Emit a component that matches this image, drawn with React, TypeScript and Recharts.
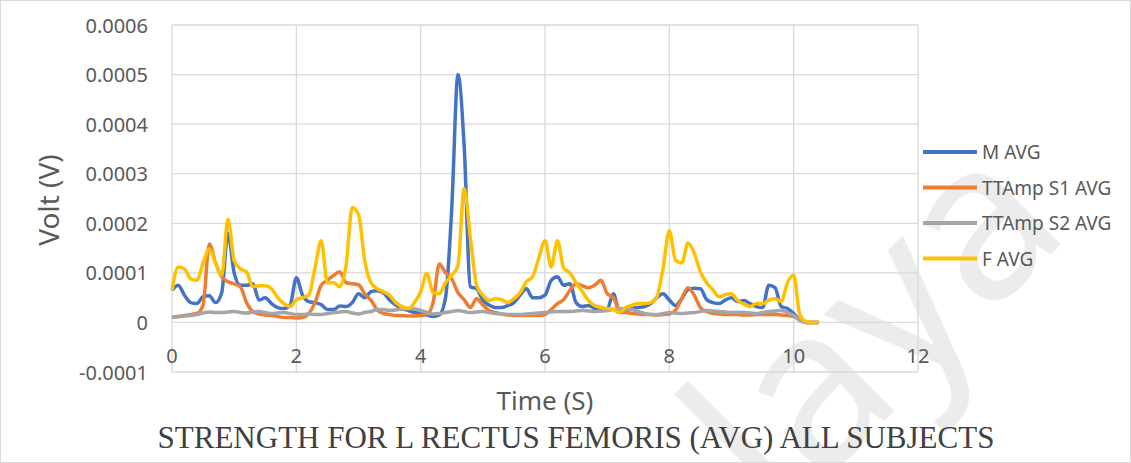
import { CartesianGrid, Line, LineChart, XAxis, YAxis } from "recharts";

// time in seconds, values in microvolts
const TIME = [
  0, 0.1, 0.2, 0.3, 0.4, 0.5, 0.6, 0.7, 0.8, 0.9,
  1, 1.1, 1.2, 1.3, 1.4, 1.5, 1.6, 1.7, 1.8, 1.9,
  2, 2.1, 2.2, 2.3, 2.4, 2.5, 2.6, 2.7, 2.8, 2.9,
  3, 3.1, 3.2, 3.3, 3.4, 3.5, 3.6, 3.7, 3.8, 3.9,
  4, 4.1, 4.2, 4.3, 4.4, 4.5, 4.6, 4.7, 4.8, 4.9,
  5, 5.1, 5.2, 5.3, 5.4, 5.5, 5.6, 5.7, 5.8, 5.9,
  6, 6.1, 6.2, 6.3, 6.4, 6.5, 6.6, 6.7, 6.8, 6.9,
  7, 7.1, 7.2, 7.3, 7.4, 7.5, 7.6, 7.7, 7.8, 7.9,
  8, 8.1, 8.2, 8.3, 8.4, 8.5, 8.6, 8.7, 8.8, 8.9,
  9, 9.1, 9.2, 9.3, 9.4, 9.5, 9.6, 9.7, 9.8, 9.9,
  10, 10.1, 10.2, 10.3, 10.4,
];

const M_AVG = [
  65, 75, 55, 40, 38, 52, 54, 40, 60, 180,
  100, 75, 75, 78, 45, 50, 38, 30, 28, 35,
  90, 55, 42, 40, 36, 26, 26, 33, 32, 40,
  58, 50, 62, 64, 60, 45, 35, 28, 24, 20,
  18, 15, 12, 15, 50, 230, 500, 355, 72, 68,
  45, 35, 30, 30, 34, 40, 55, 68, 50, 50,
  55, 85, 92, 75, 78, 40, 32, 34, 28, 24,
  26, 58, 20, 22, 28, 30, 32, 38, 50, 58,
  45, 34, 48, 66, 69, 68, 46, 40, 38, 45,
  50, 42, 44, 38, 32, 30, 75, 70, 32, 28,
  18, 5, 0, 0, 0,
];

const S1_AVG = [
  10, 12, 14, 16, 18, 35, 158, 120, 92, 82,
  78, 72, 40, 22, 17, 15, 14, 12, 10, 10,
  9, 10, 18, 40, 75, 85, 95, 102, 80, 78,
  76, 58, 45, 25, 18, 16, 14, 14, 13, 13,
  14, 16, 40, 118, 100, 88, 60, 46, 30, 48,
  35, 24, 20, 17, 15, 14, 14, 14, 14, 14,
  16, 26, 38, 46, 65, 78, 74, 70, 75, 85,
  58, 50, 24, 20, 18, 17, 16, 16, 15, 16,
  17, 25, 48, 70, 55, 30, 22, 18, 17, 16,
  16, 16, 15, 15, 16, 16, 16, 16, 15, 14,
  12, 6, 1, 0, 0,
];

const S2_AVG = [
  10, 12, 13, 14, 16, 19, 21, 20, 20, 21,
  22, 20, 19, 21, 22, 20, 18, 19, 20, 18,
  16, 16, 17, 16, 16, 18, 20, 21, 22, 19,
  17, 20, 22, 26, 26, 24, 25, 27, 28, 27,
  24, 20, 17, 18, 20, 22, 24, 22, 20, 21,
  22, 20, 18, 17, 16, 16, 16, 17, 18, 19,
  20, 21, 22, 22, 22, 23, 24, 23, 22, 23,
  24, 26, 28, 27, 26, 22, 18, 16, 16, 18,
  20, 19, 18, 19, 20, 22, 24, 23, 22, 21,
  20, 20, 20, 19, 18, 20, 22, 23, 24, 20,
  14, 4, 0, 0, 0,
];

const F_AVG = [
  65, 112, 108, 88, 85, 120, 148, 120, 95, 208,
  125, 108, 102, 72, 74, 74, 68, 50, 38, 32,
  46, 50, 55, 110, 165, 80, 80, 72, 115, 232,
  218, 125, 80, 68, 62, 55, 40, 32, 28, 40,
  62, 99, 60, 58, 80, 95, 115, 270, 170, 75,
  55, 44, 48, 46, 40, 48, 60, 82, 92, 130,
  165, 112, 165, 110, 100, 80, 62, 44, 34, 30,
  28, 26, 20, 30, 35, 38, 38, 40, 52, 110,
  185, 125, 120, 160, 140, 102, 80, 66, 52, 56,
  58, 44, 37, 32, 38, 38, 45, 48, 42, 80,
  95, 15, 2, 0, 0,
];

const X_TICKS = [0, 2, 4, 6, 8, 10, 12];
const Y_TICKS = [-100, 0, 100, 200, 300, 400, 500, 600];

const SERIES = [
  { key: "m", name: "M AVG", color: "#4472C4" },
  { key: "s1", name: "TTAmp S1 AVG", color: "#ED7D31" },
  { key: "s2", name: "TTAmp S2 AVG", color: "#A5A5A5" },
  { key: "f", name: "F AVG", color: "#FFC000" },
];

const data = TIME.map((t, i) => ({
  t,
  m: M_AVG[i],
  s1: S1_AVG[i],
  s2: S2_AVG[i],
  f: F_AVG[i],
}));

const FONT = "'Noto Sans', 'Open Sans', sans-serif";
const TEXT = "#595959";

function volt(v: number) {
  return v === 0 ? "0" : (v / 1e6).toFixed(4);
}

function XTick(props: any) {
  return (
    <text x={props.x} y={props.y - 17} textAnchor="middle" dominantBaseline="central"
      fill={TEXT} fontSize={20} fontFamily={FONT}>
      {props.payload.value}
    </text>
  );
}

function YTick(props: any) {
  return (
    <text x={props.x - 24} y={props.y} textAnchor="end" dominantBaseline="central"
      fill={TEXT} fontSize={20} fontFamily={FONT}>
      {volt(props.payload.value)}
    </text>
  );
}

export default function App() {
  return (
    <div
      style={{
        position: "fixed",
        left: 0,
        top: 0,
        width: 1131,
        height: 463,
        boxSizing: "border-box",
        border: "1px solid #d9d9d9",
        background: "#fff",
        overflow: "hidden",
      }}
    >
      {/* faint watermark */}
      <svg width={1131} height={463} style={{ position: "absolute", left: -1, top: -1 }}>
        <text x={551} y={754} transform="rotate(-45 551 754)" fontSize={220}
          fontFamily={FONT} fill="#ececec">
          Malaya
        </text>
      </svg>

      <div style={{ position: "absolute", left: -1, top: -1 }}>
        <LineChart width={1131} height={463} data={data}
          margin={{ top: 25, right: 213, bottom: 0, left: 0 }}>
          <CartesianGrid stroke="#d9d9d9" strokeWidth={1.3} />
          <XAxis dataKey="t" type="number" domain={[0, 12]} ticks={X_TICKS}
            axisLine={false} tickLine={false} tickSize={0} tickMargin={0}
            height={91} tick={<XTick />} interval={0} />
          <YAxis type="number" domain={[-100, 600]} ticks={Y_TICKS}
            axisLine={false} tickLine={false} tickSize={0} tickMargin={0}
            width={172} tick={<YTick />} interval={0} />
          {SERIES.map((s) => (
            <Line key={s.key} dataKey={s.key} name={s.name} type="monotone"
              stroke={s.color} strokeWidth={3.5} dot={false}
              isAnimationActive={false} />
          ))}
        </LineChart>
      </div>

      <svg width={1131} height={463} style={{ position: "absolute", left: -1, top: -1, pointerEvents: "none" }}>
        <text x={48} y={200} transform="rotate(-90 48 200)" textAnchor="middle"
          dominantBaseline="central" fill={TEXT} fontSize={28} fontFamily={FONT}>
          Volt (V)
        </text>
        <text x={545} y={400} textAnchor="middle" dominantBaseline="central"
          fill={TEXT} fontSize={26} fontFamily={FONT}>
          Time (S)
        </text>
        <text x={576} y={448} textAnchor="middle" fill="#404040" fontSize={31}
          fontFamily="'Liberation Serif', 'Times New Roman', serif">
          STRENGTH FOR L RECTUS FEMORIS (AVG) ALL SUBJECTS
        </text>
        {SERIES.map((s, i) => (
          <g key={s.key}>
            <line x1={923} x2={977} y1={152 + i * 35.5} y2={152 + i * 35.5}
              stroke={s.color} strokeWidth={4} />
            <text x={982} y={152 + i * 35.5} dominantBaseline="central"
              fill={TEXT} fontSize={19} fontFamily={FONT}>
              {s.name}
            </text>
          </g>
        ))}
      </svg>
    </div>
  );
}
